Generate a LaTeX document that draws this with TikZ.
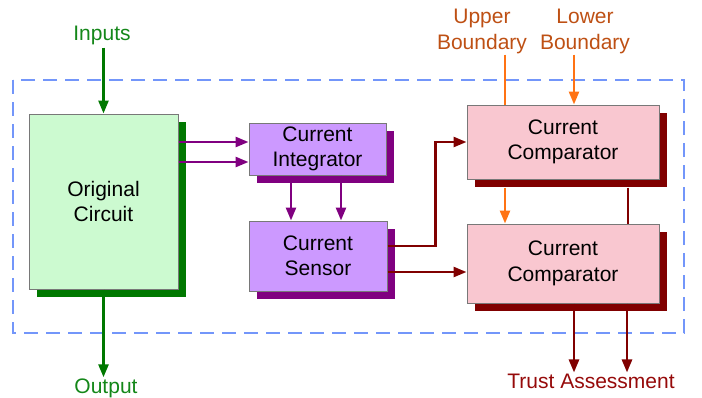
\documentclass[tikz,border=0pt]{standalone}
\usepackage{fontspec}
\setmainfont{Liberation Sans}
\usetikzlibrary{arrows.meta,shadows,calc}
\definecolor{dashblue}{RGB}{115,150,250}
\definecolor{gfill}{RGB}{204,250,208}
\definecolor{gdark}{RGB}{0,120,0}
\definecolor{gtext}{RGB}{20,135,25}
\definecolor{pfill}{RGB}{204,153,255}
\definecolor{pdark}{RGB}{128,0,128}
\definecolor{rfill}{RGB}{249,199,208}
\definecolor{rdark}{RGB}{128,0,0}
\definecolor{orng}{RGB}{255,115,20}
\definecolor{btext}{RGB}{190,80,20}
\definecolor{ttext}{RGB}{150,10,10}
\definecolor{bord}{RGB}{120,120,120}
\tikzset{
  blk/.style={draw=bord,line width=1pt,align=center,inner sep=0pt,
    font=\fontsize{21}{25.5}\selectfont},
  gblk/.style={blk,fill=gfill,drop shadow={shadow xshift=7.5pt,shadow yshift=-7.5pt,fill=gdark,opacity=1}},
  pblk/.style={blk,fill=pfill,drop shadow={shadow xshift=7.5pt,shadow yshift=-7.5pt,fill=pdark,opacity=1}},
  rblk/.style={blk,fill=rfill,drop shadow={shadow xshift=7.5pt,shadow yshift=-7.5pt,fill=rdark,opacity=1}},
  lbl/.style={align=center,inner sep=1pt,font=\fontsize{21}{26}\selectfont},
  arr/.style={line width=2.6pt,-{Triangle[length=13pt,width=10pt]}},
  garr/.style={arr,draw=gdark},
  parr/.style={arr,draw=pdark},
  rarr/.style={arr,draw=rdark},
  oarr/.style={arr,draw=orng},
}
\begin{document}
\begin{tikzpicture}[x=1pt,y=-1pt]
\useasboundingbox (0,0) rectangle (702,397);
\draw[dashblue,line width=1.2pt,dash pattern=on 14pt off 8pt] (13,80) rectangle (684,333);

\node[gblk,minimum width=149pt,minimum height=175pt] (orig) at (103.5,201.5) {Original\\Circuit};
\node[pblk,minimum width=137pt,minimum height=52pt] (int) at (317.5,149) {Current\\Integrator};
\node[pblk,minimum width=138pt,minimum height=70pt] (sen) at (318,256) {Current\\Sensor};
\node[rblk,minimum width=192pt,minimum height=74pt] (c1) at (563,142) {Current\\Comparator};
\node[rblk,minimum width=192pt,minimum height=79pt] (c2) at (563,263.5) {Current\\Comparator};

\node[lbl,text=gtext] (in) at (102,35) {Inputs};
\node[lbl,text=gtext] (out) at (106,388) {Output};
\node[lbl,text=btext] (ub) at (482,31) {Upper\\Boundary};
\node[lbl,text=btext] (lb) at (585,31) {Lower\\Boundary};
\node[lbl,text=ttext] (ta) at (591,381) {Trust Assessment};

% inputs / output
\draw[garr] (orig.north |- in.south) ++(0,2) -- (orig.north);
\draw[garr] (orig.south) -- (orig.south |- out.north);

% original -> integrator
\coordinate (ia) at ([yshift=7pt]int.west);
\coordinate (ib) at ([yshift=-13pt]int.west);
\draw[parr] (orig.east |- ia) -- (ia);
\draw[parr] (orig.east |- ib) -- (ib);

% integrator -> sensor
\draw[parr] ([xshift=-26.5pt]int.south) -- ([xshift=-26.5pt]int.south |- sen.north);
\draw[parr] ([xshift=23.5pt]int.south) -- ([xshift=23.5pt]int.south |- sen.north);

% sensor -> comparators
\draw[rarr] ([yshift=10pt]sen.east) -| ([xshift=-31pt]c1.west) -- (c1.west);
\coordinate (s2) at ([yshift=-16pt]sen.east);
\draw[rarr] (s2) -- (c2.west |- s2);

% boundaries
\coordinate (ux) at ([xshift=-58pt]c1.north);
\coordinate (lx) at ([xshift=11pt]c1.north);
\draw[orng,line width=2.6pt] (ux |- ub.south) -- (ux);
\draw[oarr] (lx |- lb.south) -- (lx);

% comparator 1 -> comparator 2
\draw[oarr] ([xshift=-58pt,yshift=-8pt]c1.south) -- ([xshift=-58pt]c2.north);
\draw[rdark,line width=2.6pt] ([xshift=65pt,yshift=-8pt]c1.south) -- ([xshift=65pt]c2.north);

% trust assessment
\draw[rarr] ([xshift=11pt]c2.south) -- ([xshift=11pt]c2.south |- ta.north);
\draw[rarr] ([xshift=64pt]c2.south) -- ([xshift=64pt]c2.south |- ta.north);
\end{tikzpicture}
\end{document}
